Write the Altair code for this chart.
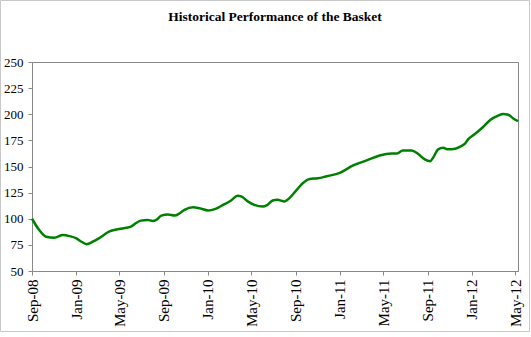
import altair as alt
import pandas as pd

dates = [
    "2008-09-01", "2008-09-21", "2008-10-10", "2008-11-02", "2008-11-25", "2008-12-14",
    "2009-01-02", "2009-01-16", "2009-01-30", "2009-02-16", "2009-03-05", "2009-04-02",
    "2009-04-30", "2009-06-02", "2009-06-15", "2009-06-29", "2009-07-18", "2009-08-01",
    "2009-08-11", "2009-08-25", "2009-09-12", "2009-10-01", "2009-10-15", "2009-10-28",
    "2009-11-21", "2009-12-09", "2010-01-02", "2010-01-20", "2010-02-12", "2010-03-06",
    "2010-03-24", "2010-04-03", "2010-04-21", "2010-05-09", "2010-06-02", "2010-06-12",
    "2010-06-29", "2010-07-12", "2010-08-01", "2010-08-09", "2010-09-04", "2010-09-21",
    "2010-10-10", "2010-11-01", "2010-11-26", "2011-01-01", "2011-02-07", "2011-03-16",
    "2011-04-21", "2011-05-24", "2011-06-08", "2011-06-24", "2011-07-19", "2011-08-05",
    "2011-08-24", "2011-09-08", "2011-09-16", "2011-09-30", "2011-10-14", "2011-10-27",
    "2011-11-16", "2011-11-30", "2011-12-14", "2011-12-22", "2012-01-05", "2012-01-31",
    "2012-02-22", "2012-03-14", "2012-03-28", "2012-04-11", "2012-04-25", "2012-05-08",
]
values = [
    100.0, 89.2, 82.8, 81.8, 84.4, 83.4,
    81.2, 78.0, 75.7, 78.0, 81.2, 87.6,
    90.2, 92.5, 95.7, 98.2, 98.9, 97.9,
    98.9, 103.0, 104.0, 103.0, 105.3, 108.5,
    111.0, 110.0, 107.9, 109.2, 113.3, 117.5,
    122.0, 121.4, 116.6, 113.3, 111.7, 112.7,
    117.5, 118.2, 116.6, 118.2, 127.8, 134.2,
    138.1, 138.7, 140.7, 143.9, 151.0, 155.8,
    160.6, 162.5, 162.5, 165.4, 165.4, 162.2,
    156.8, 155.1, 158.4, 166.4, 168.0, 166.4,
    167.0, 169.0, 172.2, 176.0, 179.9, 187.3,
    194.7, 198.6, 200.2, 199.5, 196.0, 193.4,
]
tick_dates = [(2008, 9), (2009, 1), (2009, 5), (2009, 9), (2010, 1), (2010, 5),
              (2010, 9), (2011, 1), (2011, 5), (2011, 9), (2012, 1), (2012, 5)]
y_ticks = [50, 75, 100, 125, 150, 175, 200, 225, 250]

df = pd.DataFrame({"date": dates, "value": values})

W, H = 486, 209
FONT = "Liberation Serif"

line = alt.Chart(df).mark_line(
    color="#008000", strokeWidth=2.5, interpolate="monotone"
).encode(
    x=alt.X(
        "date:T",
        scale=alt.Scale(
            type="utc",
            domain=[alt.DateTime(year=2008, month=9, date=1, utc=True),
                    alt.DateTime(year=2012, month=5, date=8, utc=True)],
        ),
        axis=alt.Axis(
            title=None,
            values=[alt.DateTime(year=y, month=m, date=1, utc=True) for y, m in tick_dates],
            labelExpr="utcFormat(datum.value, '%b-%y')",
            labelAngle=270,
            labelFont=FONT,
            labelFontSize=15,
            labelColor="black",
            labelPadding=4,
            tickSize=4,
            tickColor="#888888",
            domainColor="#888888",
            grid=False,
            labelOverlap=False,
            labelFlush=False,
        ),
    ),
    y=alt.Y(
        "value:Q",
        scale=alt.Scale(domain=[50, 250], nice=False, zero=False),
        axis=alt.Axis(
            title=None,
            values=y_ticks,
            labelFont=FONT,
            labelFontSize=13,
            labelColor="black",
            labelPadding=5,
            tickSize=4,
            tickColor="#888888",
            domainColor="#888888",
            grid=False,
        ),
    ),
)

border = alt.Chart(pd.DataFrame({"k": [0]})).mark_rect(
    fill=None, stroke="#c8c8c8", strokeWidth=1
).encode(
    x=alt.value(-31.5), x2=alt.value(497.5), y=alt.value(-61.5), y2=alt.value(269.5)
)

chart = alt.layer(line, border).properties(
    width=W,
    height=H,
    title=alt.TitleParams(
        "Historical Performance of the Basket",
        font=FONT, fontSize=13.5, fontWeight="bold", color="black",
        anchor="middle", frame="group", offset=-23,
    ),
    autosize=alt.AutoSizeParams(type="none"),
    padding={"left": 32, "top": 62, "right": 13, "bottom": 66},
    background="white",
).configure_view(
    stroke="#888888", strokeWidth=1
)

chart.save("out.html", embed_options={"renderer": "svg", "actions": False})
